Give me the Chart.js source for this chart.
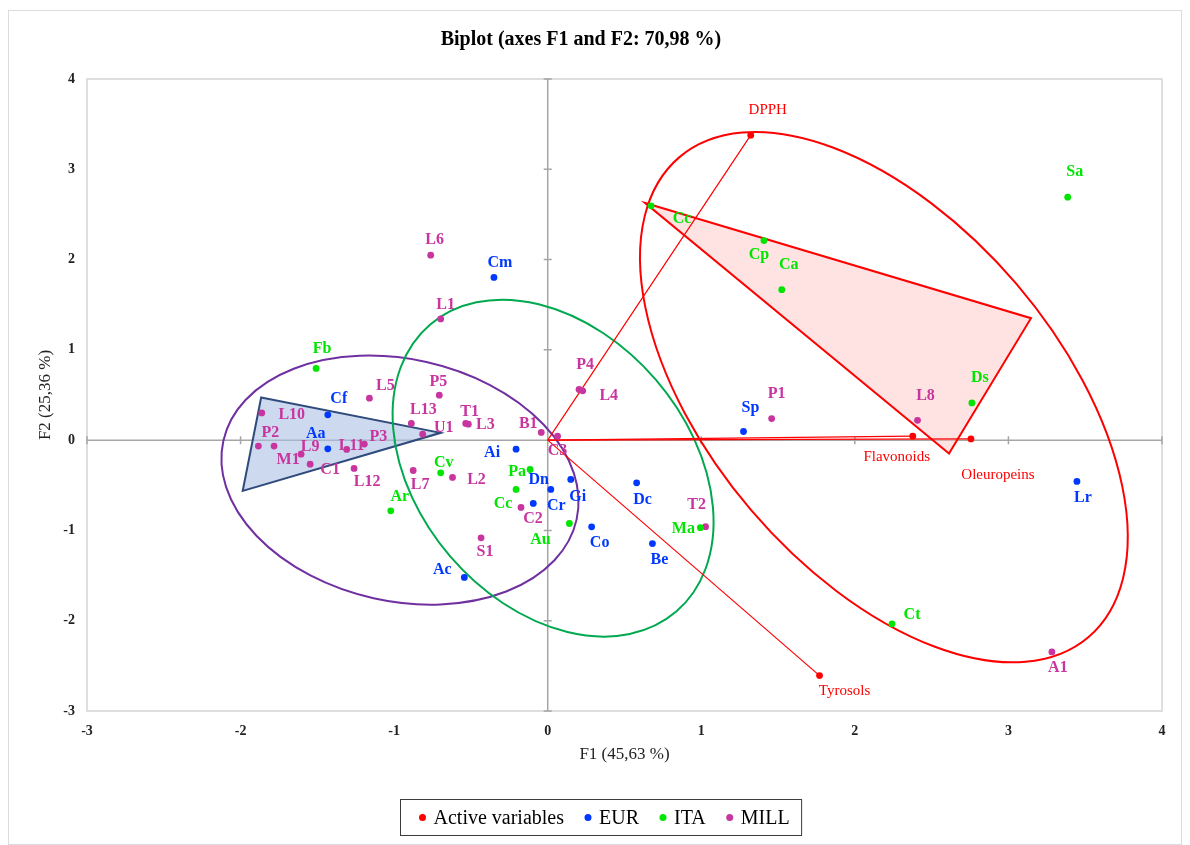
<!DOCTYPE html>
<html>
<head>
<meta charset="utf-8">
<title>Biplot (axes F1 and F2: 70,98 %)</title>
<script src="https://cdn.jsdelivr.net/npm/chart.js@4.4.1/dist/chart.umd.min.js"></script>
<style>
  html, body { margin: 0; padding: 0; background: #fff; }
  #wrap { width: 1190px; height: 845px; }
</style>
</head>
<body>
<div id="wrap"><canvas id="biplot" width="1190" height="845"></canvas></div>
<script>
// Axis ticks
const tickValues = [-3, -2, -1, 0, 1, 2, 3, 4];

// Active variables
const varNames = ['DPPH', 'Flavonoids', 'Oleuropeins', 'Tyrosols'];
const varF1 = [1.322, 2.377, 2.756, 1.770];
const varF2 = [3.378, 0.044, 0.013, -2.608];

// EUR observations
const eurNames = ['Cf', 'Aa', 'Cm', 'Ai', 'Dn', 'Gi', 'Cr', 'Co', 'Dc', 'Be', 'Ac', 'Sp', 'Lr'];
const eurF1 = [-1.432, -1.432, -0.350, -0.206, 0.020, 0.150, -0.094, 0.286, 0.579, 0.682, -0.543, 1.275, 3.446];
const eurF2 = [0.280, -0.096, 1.802, -0.100, -0.546, -0.435, -0.701, -0.960, -0.473, -1.146, -1.521, 0.096, -0.457];

// ITA observations
const itaNames = ['Fb', 'Ar', 'Cv', 'Pa', 'Cc', 'Au', 'Ma', 'Cc', 'Cp', 'Ca', 'Ds', 'Sa', 'Ct'];
const itaF1 = [-1.508, -1.022, -0.697, -0.115, -0.206, 0.141, 0.994, 0.673, 1.408, 1.524, 2.762, 3.386, 2.242];
const itaF2 = [0.794, -0.783, -0.362, -0.325, -0.546, -0.923, -0.969, 2.595, 2.210, 1.667, 0.412, 2.691, -2.035];

// MILL observations
const millNames = ['L10', 'P2', 'L9', 'M1', 'C1', 'L11', 'P3', 'L12', 'L5', 'P5', 'L13', 'U1', 'L1', 'L6',
                   'L7', 'L2', 'T1', 'L3', 'B1', 'C3', 'C2', 'S1', 'P4', 'L4', 'P1', 'L8', 'T2', 'A1'];
const millF1 = [-1.862, -1.884, -1.782, -1.606, -1.547, -1.309, -1.194, -1.261, -1.161, -0.706, -0.888, -0.814, -0.697, -0.762,
                -0.876, -0.620, -0.534, -0.517, -0.042, 0.064, -0.174, -0.434, 0.204, 0.228, 1.458, 2.408, 1.028, 3.283];
const millF2 = [0.302, -0.066, -0.066, -0.155, -0.266, -0.103, -0.044, -0.313, 0.465, 0.498, 0.185, 0.066, 1.343, 2.049,
                -0.336, -0.413, 0.185, 0.177, 0.085, 0.044, -0.745, -1.082, 0.561, 0.546, 0.239, 0.219, -0.958, -2.346];

// Convex hulls (triangles)
const blueHullF1 = [-1.866, -0.697, -1.986];
const blueHullF2 = [0.473, 0.081, -0.562];
const redHullF1 = [0.635, 3.147, 2.613];
const redHullF2 = [2.626, 1.351, -0.148];

// Ellipses: centre F1, centre F2, then two conjugate semi-axes (dF1, dF2)
const purpleEllipse = [-0.962, -0.443, 1.150, -0.437, -0.172, -1.308];
const greenEllipse = [0.035, -0.310, 0.802, -1.589, -0.670, -0.978];
const redEllipse = [2.189, 0.476, 1.333, -2.656, -0.863, -1.254];

// Label placement (pixel offsets from each point)
const varLabelOffsets = [[17, -25], [-16, 21], [27, 36], [25, 15]];
const eurLabelOffsets = [[11, -16], [-12, -15], [6, -15], [-24, 4], [-12, -10], [7, 17], [23, 2], [8, 16],
                         [6, 17], [7, 16], [-22, -8], [7, -24], [6, 16]];
const itaLabelOffsets = [[6, -20], [9, -14], [3, -10], [-13, 2], [-13, 14], [-29, 16], [-17, 1], [31, 13],
                         [-5, 14], [7, -25], [8, -25], [7, -25], [20, -9]];
const millLabelOffsets = [[30, 2], [12, -13], [36, 1], [-13, 6], [20, 6], [5, -4], [14, -7], [13, 13], [16, -12],
                          [-1, -13], [12, -14], [21, -6], [5, -14], [4, -15], [7, 14], [24, 2], [4, -12], [17, 1],
                          [-13, -9], [0, 15], [12, 11], [4, 14], [6, -25], [26, 5], [5, -25], [8, -25], [-9, -22], [6, 16]];

const SERIF = '"Liberation Serif", "Times New Roman", serif';
const RED = '#ff0000', BLUE = '#0038ff', GREEN = '#00e600', MAGENTA = '#c8359e';

function points(f1, f2) {
    return f1.map((v, i) => ({ x: v, y: f2[i] }));
}

function group(label, color, f1, f2, names, offsets, font) {
    return {
        label: label,
        data: points(f1, f2),
        names: names,
        offsets: offsets,
        labelFont: font,
        backgroundColor: color,
        borderColor: color,
        pointRadius: 3.4,
        pointHoverRadius: 3.4,
        pointBorderWidth: 0
    };
}

const datasets = [
    group('Active variables', RED, varF1, varF2, varNames, varLabelOffsets, '15px ' + SERIF),
    group('EUR', BLUE, eurF1, eurF2, eurNames, eurLabelOffsets, 'bold 16px ' + SERIF),
    group('ITA', GREEN, itaF1, itaF2, itaNames, itaLabelOffsets, 'bold 16px ' + SERIF),
    group('MILL', MAGENTA, millF1, millF2, millNames, millLabelOffsets, 'bold 16px ' + SERIF)
];

function strokeEllipse(ctx, xs, ys, e, color) {
    const cx = xs.getPixelForValue(e[0]), cy = ys.getPixelForValue(e[1]);
    const ux = xs.getPixelForValue(e[0] + e[2]) - cx, uy = ys.getPixelForValue(e[1] + e[3]) - cy;
    const vx = xs.getPixelForValue(e[0] + e[4]) - cx, vy = ys.getPixelForValue(e[1] + e[5]) - cy;
    ctx.save();
    ctx.beginPath();
    ctx.transform(ux, uy, vx, vy, cx, cy);
    ctx.arc(0, 0, 1, 0, Math.PI * 2);
    ctx.restore();
    ctx.strokeStyle = color;
    ctx.lineWidth = 2;
    ctx.stroke();
}

function drawHull(ctx, xs, ys, f1, f2, fill, stroke) {
    ctx.beginPath();
    f1.forEach((v, i) => {
        const x = xs.getPixelForValue(v), y = ys.getPixelForValue(f2[i]);
        if (i === 0) ctx.moveTo(x, y); else ctx.lineTo(x, y);
    });
    ctx.closePath();
    ctx.fillStyle = fill;
    ctx.fill();
    ctx.strokeStyle = stroke;
    ctx.lineWidth = 2;
    ctx.lineJoin = 'miter';
    ctx.stroke();
}

const biplotDecor = {
    id: 'biplotDecor',
    beforeDatasetsDraw(chart) {
        const { ctx, chartArea: a } = chart;
        const xs = chart.scales.x, ys = chart.scales.y;
        ctx.save();

        // plot frame
        ctx.strokeStyle = '#d4d4d4';
        ctx.lineWidth = 1.5;
        ctx.strokeRect(a.left, a.top, a.right - a.left, a.bottom - a.top);

        // axes through the origin, with small ticks
        const x0 = xs.getPixelForValue(0), y0 = ys.getPixelForValue(0);
        ctx.strokeStyle = '#a6a6a6';
        ctx.lineWidth = 1.5;
        ctx.beginPath();
        ctx.moveTo(a.left, y0); ctx.lineTo(a.right, y0);
        ctx.moveTo(x0, a.top); ctx.lineTo(x0, a.bottom);
        tickValues.forEach(t => {
            const tx = xs.getPixelForValue(t), ty = ys.getPixelForValue(t);
            ctx.moveTo(tx, y0 - 4); ctx.lineTo(tx, y0 + 4);
            ctx.moveTo(x0 - 4, ty); ctx.lineTo(x0 + 4, ty);
        });
        ctx.stroke();

        // hulls
        drawHull(ctx, xs, ys, blueHullF1, blueHullF2, 'rgba(170,192,228,0.6)', '#2f4b7c');
        drawHull(ctx, xs, ys, redHullF1, redHullF2, 'rgba(255,190,190,0.45)', RED);

        // ellipses
        strokeEllipse(ctx, xs, ys, purpleEllipse, '#7030a0');
        strokeEllipse(ctx, xs, ys, greenEllipse, '#00a84f');
        strokeEllipse(ctx, xs, ys, redEllipse, RED);

        // variable vectors
        ctx.strokeStyle = RED;
        ctx.lineWidth = 1.2;
        varF1.forEach((v, i) => {
            ctx.beginPath();
            ctx.moveTo(x0, y0);
            ctx.lineTo(xs.getPixelForValue(v), ys.getPixelForValue(varF2[i]));
            ctx.stroke();
        });
        ctx.restore();
    },
    afterDatasetsDraw(chart) {
        const ctx = chart.ctx;
        ctx.save();
        ctx.textAlign = 'center';
        ctx.textBaseline = 'middle';
        chart.data.datasets.forEach((ds, di) => {
            const meta = chart.getDatasetMeta(di);
            ctx.font = ds.labelFont;
            ctx.fillStyle = ds.backgroundColor;
            meta.data.forEach((pt, i) => {
                const off = ds.offsets[i];
                ctx.fillText(ds.names[i], pt.x + off[0], pt.y + off[1]);
            });
        });
        ctx.restore();
    },
    afterDraw(chart) {
        const ctx = chart.ctx;
        ctx.save();
        // outer figure frame
        ctx.strokeStyle = '#dcdcdc';
        ctx.lineWidth = 1;
        ctx.strokeRect(8.5, 10.5, 1173, 834);

        // legend in a box
        ctx.font = '20px ' + SERIF;
        ctx.textBaseline = 'middle';
        const items = chart.data.datasets.map(ds => ({ text: ds.label, color: ds.backgroundColor, w: ctx.measureText(ds.label).width }));
        const gap = 23, dotGap = 12;
        let total = 0;
        items.forEach((it, i) => { total += dotGap + it.w + (i < items.length - 1 ? gap : 0); });
        const padL = 21, padR = 12;
        const boxW = total + padL + padR;
        const boxL = Math.round(601 - boxW / 2) + 0.5;
        const boxT = 799.5, boxH = 36, cy = boxT + boxH / 2;
        ctx.strokeStyle = '#3c3c3c';
        ctx.lineWidth = 1;
        ctx.strokeRect(boxL, boxT, boxW, boxH);
        let x = boxL + padL;
        items.forEach(it => {
            ctx.fillStyle = it.color;
            ctx.beginPath();
            ctx.arc(x + 1, cy, 3.5, 0, Math.PI * 2);
            ctx.fill();
            ctx.fillStyle = '#000';
            ctx.fillText(it.text, x + dotGap, cy + 1);
            x += dotGap + it.w + gap;
        });
        ctx.restore();
    }
};

new Chart(document.getElementById('biplot'), {
    type: 'scatter',
    data: { datasets: datasets },
    options: {
        responsive: false,
        animation: false,
        events: [],
        layout: { padding: { left: 0, right: 28, top: 0, bottom: 60 } },
        plugins: {
            legend: { display: false },
            tooltip: { enabled: false },
            title: {
                display: true,
                text: 'Biplot (axes F1 and F2: 70,98 %)',
                color: '#000',
                font: { family: SERIF, size: 20, weight: 'bold' },
                padding: { top: 28, bottom: 27 }
            }
        },
        scales: {
            x: {
                type: 'linear',
                min: -3,
                max: 4,
                afterBuildTicks: axis => { axis.ticks = tickValues.map(v => ({ value: v })); },
                afterFit: axis => { axis.height = 74; },
                grid: { display: false, drawTicks: false },
                border: { display: false },
                ticks: { padding: 12, color: '#222', font: { family: SERIF, size: 14, weight: 'bold' } },
                title: {
                    display: true,
                    text: 'F1 (45,63 %)',
                    color: '#222',
                    font: { family: SERIF, size: 17 },
                    padding: { top: 0, bottom: 20 }
                }
            },
            y: {
                type: 'linear',
                min: -3,
                max: 4,
                afterBuildTicks: axis => { axis.ticks = tickValues.map(v => ({ value: v })); },
                afterFit: axis => { axis.width = 87; },
                grid: { display: false, drawTicks: false },
                border: { display: false },
                ticks: { padding: 12, color: '#222', font: { family: SERIF, size: 14, weight: 'bold' } },
                title: {
                    display: true,
                    text: 'F2 (25,36 %)',
                    color: '#222',
                    font: { family: SERIF, size: 17 },
                    padding: { top: 35, bottom: 0 }
                }
            }
        }
    },
    plugins: [biplotDecor]
});
</script>
</body>
</html>
